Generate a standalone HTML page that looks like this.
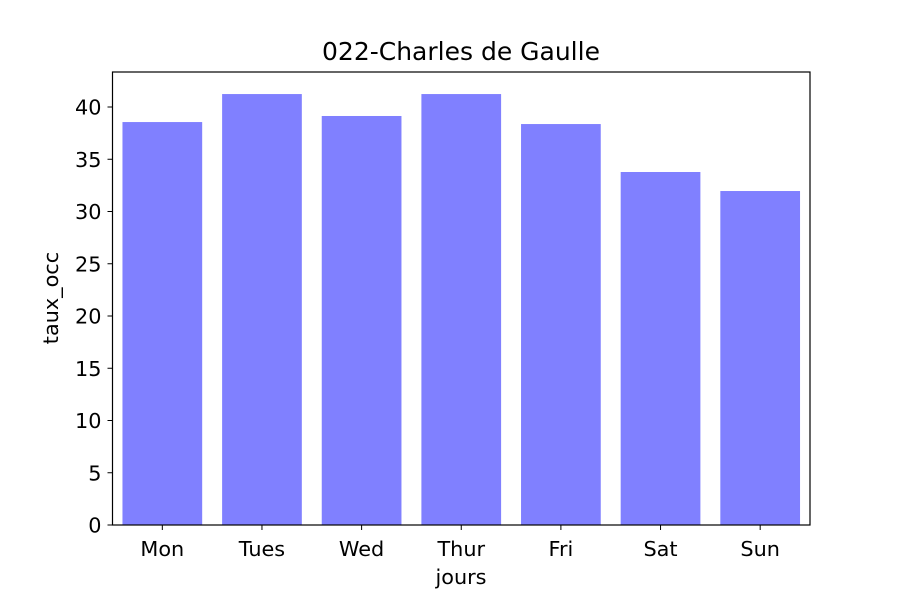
<!DOCTYPE html>
<html><head><meta charset="utf-8"><style>
body{margin:0;background:#fff;}
svg text{font-family:"DejaVu Sans","Liberation Sans",sans-serif;fill:#000;}
</style></head><body>
<svg id="chart" width="900" height="600" xmlns="http://www.w3.org/2000/svg">
<rect width="900" height="600" fill="#fff"/>
<g id="bars"></g>
<g id="axes"></g>
<text x="461" y="60" font-size="25" text-anchor="middle">022-Charles de Gaulle</text>
<text x="461" y="584" font-size="20.8" text-anchor="middle">jours</text>
<text x="58" y="298" font-size="20.8" text-anchor="middle" transform="rotate(-90 58 298)">taux_occ</text>
</svg>
<script>
const categories=["Mon","Tues","Wed","Thur","Fri","Sat","Sun"];
const values=[38.56,41.24,39.14,41.24,38.37,33.78,31.96];
const yTicks=[0,5,10,15,20,25,30,35,40];
const L=112.5,R=810,T=72,B=525,yMax=43.35;
const ns="http://www.w3.org/2000/svg";
const xs=i=>L+(i+0.5)*(R-L)/categories.length;
const ys=v=>B-v*(B-T)/yMax;
const bw=0.8*(R-L)/categories.length;
const bars=document.getElementById('bars'),axes=document.getElementById('axes');
function mk(t,a,p){const e=document.createElementNS(ns,t);for(const k in a)e.setAttribute(k,a[k]);p.appendChild(e);return e;}
values.forEach((v,i)=>{
 const r=mk('rect',{x:xs(i)-bw/2,y:ys(v),width:bw,height:B-ys(v),fill:'#8080ff'},bars);
 
 
 mk('line',{x1:xs(i),x2:xs(i),y1:B,y2:B+5,stroke:'#000','stroke-width':1},axes);
 const t=mk('text',{x:xs(i),y:B+31,'font-size':20.8,'text-anchor':'middle'},axes);
 t.textContent=categories[i];
 
 
});
yTicks.forEach(v=>{
 mk('line',{x1:L-5,x2:L,y1:ys(v),y2:ys(v),stroke:'#000','stroke-width':1},axes);
 const t=mk('text',{x:L-11,y:ys(v)+7.5,'font-size':20.8,'text-anchor':'end'},axes);
 t.textContent=v;
 
 
});
const f=mk('rect',{x:L,y:T,width:R-L,height:B-T,fill:'none',stroke:'#000','stroke-width':1.2},axes);


</script>
</body></html>
